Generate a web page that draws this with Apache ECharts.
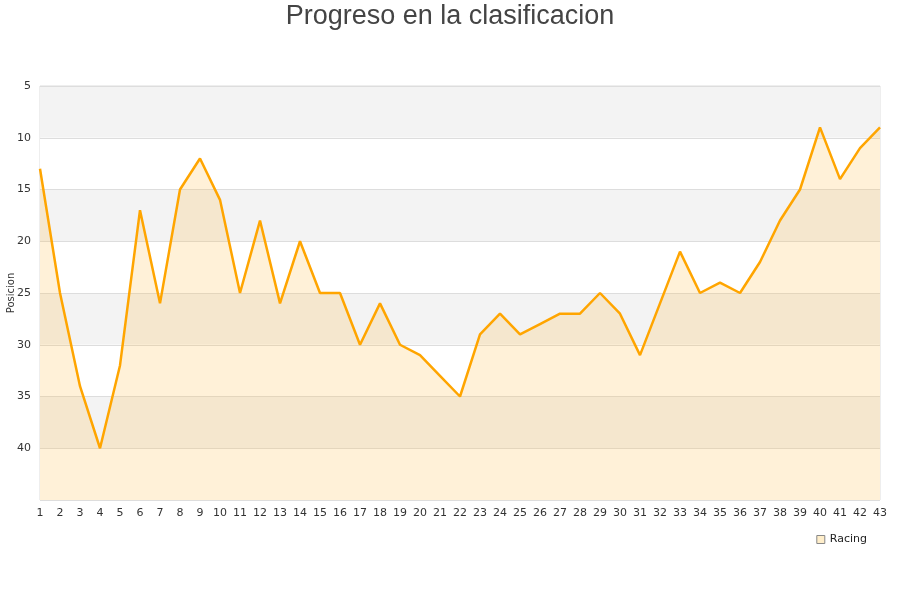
<!DOCTYPE html>
<html>
<head>
<meta charset="utf-8">
<script src="https://cdn.jsdelivr.net/npm/echarts@6/dist/echarts.min.js"></script>
<style>html,body{margin:0;padding:0;background:#fff}#c{width:900px;height:600px}</style>
</head>
<body>
<div id="c"></div>
<script>
var categories = [];
for (var i = 1; i <= 43; i++) categories.push(String(i));
var seriesName = 'Racing';
var positions = [13,25,34,40,32,17,26,15,12,16,25,18,26,20,25,25,30,26,30,31,33,35,29,27,29,28,27,27,25,27,31,26,21,25,24,25,22,18,15,9,14,11,9];
var yTicks = [5,10,15,20,25,30,35,40];

var chart = echarts.init(document.getElementById('c'));
chart.setOption({
  animation: false,
  title: {
    text: 'Progreso en la clasificacion',
    left: 'center',
    top: -2,
    textStyle: {fontFamily: 'Liberation Sans, Arial, sans-serif', fontSize: 27, fontWeight: 'normal', color: '#444'}
  },
  legend: {
    data: [{name: seriesName, icon: 'rect'}],
    right: 28,
    top: 529,
    itemWidth: 8,
    itemHeight: 8,
    textStyle: {fontFamily: 'DejaVu Sans', fontSize: 11, color: '#222'},
    itemStyle: {color: '#FFEECA', borderColor: '#888', borderWidth: 1}
  },
  grid: {left: 40, right: 20, top: 86, bottom: 100, outerBoundsMode: 'none', containLabel: false, show: true, borderColor: '#dddddd', borderWidth: 1, backgroundColor: 'transparent'},
  xAxis: {
    type: 'category',
    data: categories,
    boundaryGap: false,
    axisLine: {show: false},
    axisTick: {show: false},
    axisLabel: {interval: 0, fontFamily: 'DejaVu Sans', fontSize: 11, color: '#333', margin: 8},
    splitLine: {show: false}
  },
  yAxis: {
    type: 'value',
    inverse: true,
    min: 5,
    max: 45,
    interval: 5,
    name: 'Posicion',
    nameLocation: 'middle',
    nameGap: 24,
    nameMoveOverlap: false,
    nameTextStyle: {fontFamily: 'DejaVu Sans', fontSize: 10, color: '#333'},
    axisLine: {show: false},
    axisTick: {show: false},
    axisLabel: {
      fontFamily: 'DejaVu Sans', fontSize: 11, color: '#333', margin: 9,
      formatter: function (v) { return yTicks.indexOf(v) >= 0 ? String(v) : ''; }
    },
    splitLine: {show: true, lineStyle: {color: '#dddddd', width: 1}},
    splitArea: {show: true, areaStyle: {color: ['#f3f3f3', '#ffffff']}}
  },
  series: [{
    name: seriesName,
    type: 'line',
    data: positions,
    showSymbol: false,
    symbol: 'none',
    lineStyle: {color: '#FFA500', width: 2.5},
    itemStyle: {color: '#FFA500'},
    areaStyle: {color: 'rgba(255,192,82,0.32)', origin: 'end'}
  }]
});
</script>
</body>
</html>
